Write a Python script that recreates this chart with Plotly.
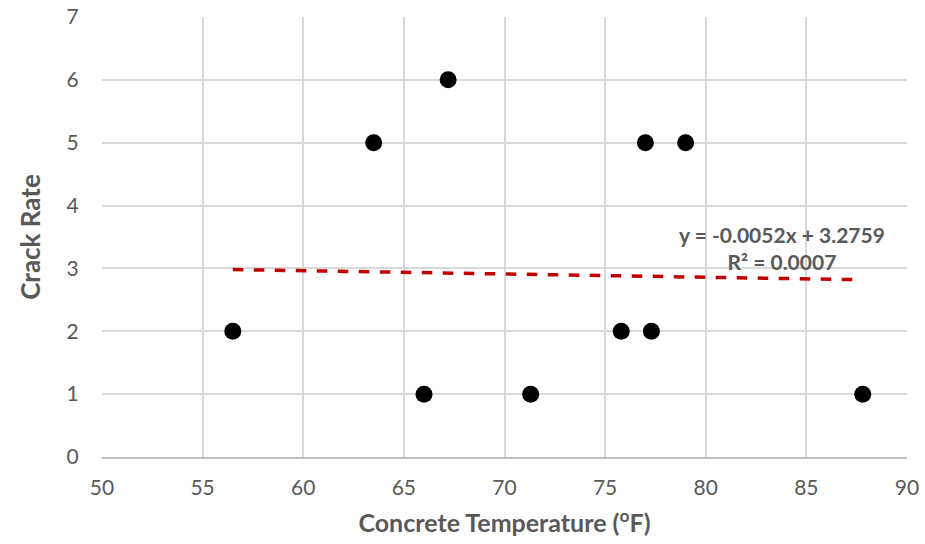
import plotly.graph_objects as go

temps = [56.5, 63.5, 66.0, 67.2, 71.3, 75.8, 77.0, 77.3, 79.0, 87.8]
crack_rate = [2, 5, 1, 6, 1, 2, 5, 2, 5, 1]
slope = -0.0052
intercept = 3.2759
trend_x = [min(temps), max(temps)]
trend_y = [slope * v + intercept for v in trend_x]
eq_text = "<b>y = -0.0052x + 3.2759<br>R² = 0.0007</b>"

font_family = "Lato, 'Open Sans', sans-serif"
gray = "#595959"

fig = go.Figure()
fig.add_trace(go.Scatter(x=trend_x, y=trend_y, mode="lines",
                         line=dict(color="#C00000", width=3.5, dash="dash"),
                         showlegend=False, hoverinfo="skip"))
fig.add_trace(go.Scatter(x=temps, y=crack_rate, mode="markers",
                         marker=dict(color="black", size=17), showlegend=False))

fig.add_annotation(x=83.8, y=3.32, xref="x", yref="y", text=eq_text, showarrow=False,
                   align="center", font=dict(family=font_family, size=21, color=gray),
                   xanchor="center", yanchor="middle")

fig.update_layout(
    width=925, height=544,
    margin=dict(l=102, r=18, t=17, b=87),
    paper_bgcolor="white", plot_bgcolor="white",
    font=dict(family=font_family, size=21, color=gray),
    xaxis=dict(range=[50, 90], dtick=5, tick0=50, showgrid=True, gridcolor="#D9D9D9",
               gridwidth=1.5, zeroline=False, showline=True, linecolor="#BFBFBF", linewidth=1.5,
               ticks="outside", ticklen=11, tickcolor="white", tickfont=dict(size=21, color=gray),
               automargin=False,
               title=dict(text="<b>Concrete Temperature (<sup>o</sup>F)</b>",
                          font=dict(size=25, color=gray), standoff=17)),
    yaxis=dict(range=[0, 7], dtick=1, showgrid=True, gridcolor="#D9D9D9", gridwidth=1.5,
               zeroline=False, showline=False, ticks="outside", ticklen=18, tickcolor="white",
               tickfont=dict(size=21, color=gray), automargin=False,
               title=dict(text="<b>Crack Rate</b>", font=dict(size=26, color=gray), standoff=18)),
)
fig.write_html("out.html", config={"displayModeBar": False})

with open("out.html", "r", encoding="utf-8") as f:
    html = f.read()
html = html.replace("<body>", '<body style="margin:0;padding:0;overflow:hidden">', 1)
with open("out.html", "w", encoding="utf-8") as f:
    f.write(html)
